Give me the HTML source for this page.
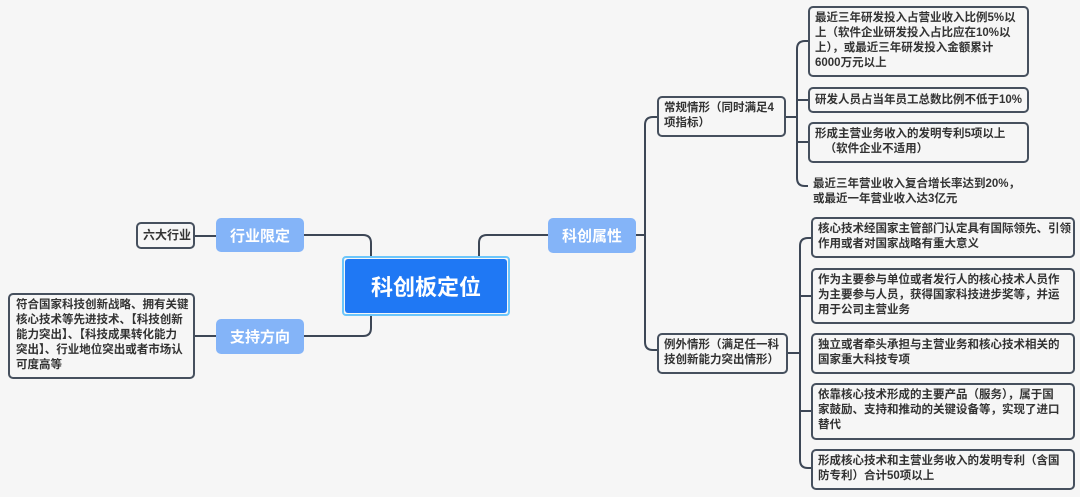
<!DOCTYPE html>
<html><head><meta charset="utf-8"><style>
body{margin:0;width:1080px;height:497px;background:#f6f6f6;position:relative;overflow:hidden;font-family:"Liberation Sans","Noto Sans CJK SC",sans-serif;}
.b{position:absolute;box-sizing:border-box;border:2px solid #46505e;border-radius:5px;background:#f6f6f6;color:#333;font-size:11.5px;line-height:15px;padding:3px 5px;font-weight:bold;white-space:nowrap;overflow:hidden;}
.t{position:absolute;color:#333;font-size:11.5px;line-height:15px;font-weight:bold;white-space:nowrap;}
.m{position:absolute;box-sizing:border-box;background:#84b4f8;border-radius:5px;color:#fff;font-size:15px;font-weight:bold;display:flex;align-items:center;justify-content:center;}
svg{position:absolute;left:0;top:0}
</style></head><body>
<svg width="1080" height="497" fill="none" stroke="#3d4756" stroke-width="2">
<path d="M195 236H216"/><path d="M195 336H216"/>
<path d="M304 235H363q8 0 8 8V257"/><path d="M304 336H363q8 0 8-8V314"/>
<path d="M479 257V243q0-8 8-8H548"/>
<path d="M636 235H645"/>
<path d="M657 117H653q-8 0-8 8V342q0 8 8 8H657"/>
<path d="M786 117H797"/><path d="M788 353H800"/>
<path d="M808 41H805q-8 0-8 8V178q0 8 8 8H808"/>
<path d="M797 100H808"/><path d="M797 142H808"/>
<path d="M811 238H808q-8 0-8 8V460q0 8 8 8H811"/>
<path d="M800 296H811"/><path d="M800 411H811"/>
</svg>
<div class="b" style="left:136px;top:222px;width:59px;height:27px;font-size:12px;padding:4px 5px">六大行业</div>
<div class="b" style="left:8px;top:293px;width:187px;height:86px;padding:3px 6px">符合国家科技创新战略、拥有关键<br>核心技术等先进技术、【科技创新<br>能力突出】、【科技成果转化能力<br>突出】、行业地位突出或者市场认<br>可度高等</div>
<div class="m" style="left:216px;top:218px;width:88px;height:34px;">行业限定</div>
<div class="m" style="left:216px;top:319px;width:88px;height:35px;">支持方向</div>
<div class="m" style="left:548px;top:218px;width:88px;height:35px;">科创属性</div>
<div style="position:absolute;left:342px;top:256px;width:168px;height:60px;box-sizing:border-box;border:2px solid #6cc6fb;border-radius:4px;"></div>
<div style="position:absolute;left:345px;top:259px;width:162px;height:54px;background:#1f78f4;border-radius:3px;color:#fff;font-size:22px;font-weight:bold;display:flex;align-items:center;justify-content:center;">科创板定位</div>
<div class="b" style="left:657px;top:96px;width:129px;height:41px;">常规情形（同时满足4<br>项指标）</div>
<div class="b" style="left:657px;top:333px;width:131px;height:41px;">例外情形（满足任一科<br>技创新能力突出情形）</div>
<div class="b" style="left:808px;top:6px;width:221px;height:71px;">最近三年研发投入占营业收入比例5%以<br>上（软件企业研发投入占比应在10%以<br>上），或最近三年研发投入金额累计<br>6000万元以上</div>
<div class="b" style="left:808px;top:87px;width:221px;height:26px;padding-top:4px">研发人员占当年员工总数比例不低于10%</div>
<div class="b" style="left:808px;top:122px;width:221px;height:41px;">形成主营业务收入的发明专利5项以上<br>&nbsp;&nbsp;&nbsp;（软件企业不适用）</div>
<div class="t" style="left:813px;top:177px;">最近三年营业收入复合增长率达到20%，<br>或最近一年营业收入达3亿元</div>
<div class="b" style="left:811px;top:217px;width:264px;height:41px;">核心技术经国家主管部门认定具有国际领先、引领<br>作用或者对国家战略有重大意义</div>
<div class="b" style="left:811px;top:268px;width:264px;height:56px;">作为主要参与单位或者发行人的核心技术人员作<br>为主要参与人员，获得国家科技进步奖等，并运<br>用于公司主营业务</div>
<div class="b" style="left:811px;top:333px;width:264px;height:41px;">独立或者牵头承担与主营业务和核心技术相关的<br>国家重大科技专项</div>
<div class="b" style="left:811px;top:383px;width:264px;height:57px;">依靠核心技术形成的主要产品（服务），属于国<br>家鼓励、支持和推动的关键设备等，实现了进口<br>替代</div>
<div class="b" style="left:811px;top:449px;width:264px;height:41px;">形成核心技术和主营业务收入的发明专利（含国<br>防专利）合计50项以上</div>
</body></html>
